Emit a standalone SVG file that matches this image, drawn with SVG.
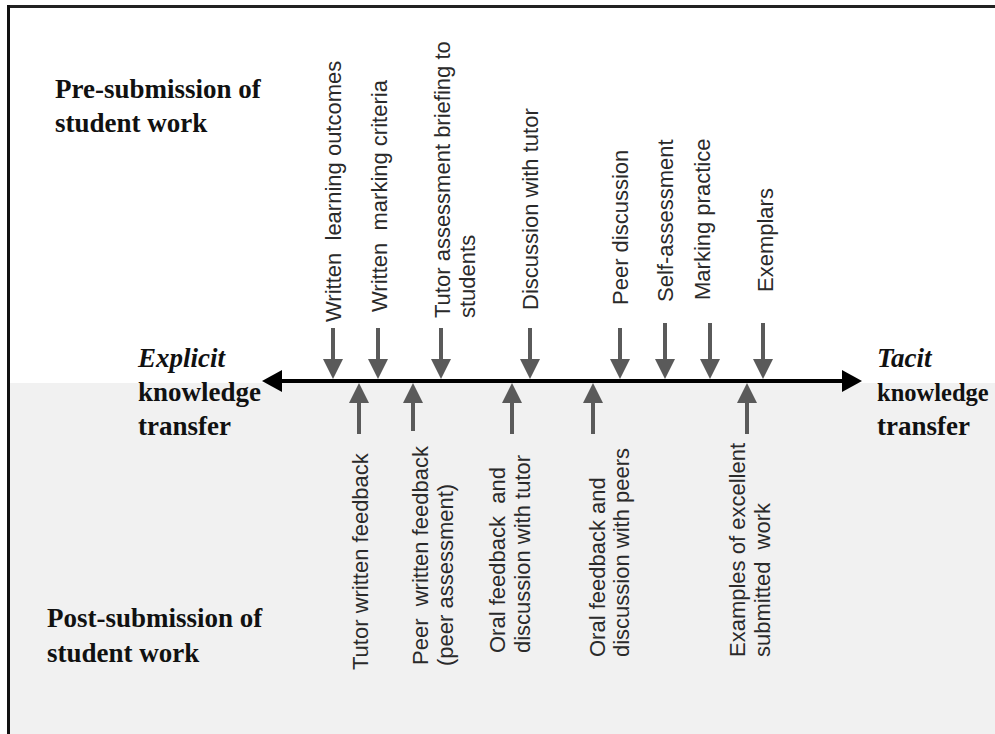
<svg xmlns="http://www.w3.org/2000/svg" width="995" height="734" viewBox="0 0 995 734">
<style>
.hd{font-family:"Liberation Serif","Times New Roman",serif;font-weight:bold;font-size:27px;fill:#111}
.it{font-style:italic}
.lb{font-family:"Liberation Sans",Arial,sans-serif;font-size:22px;fill:#2a2a2a;white-space:pre}
.ar{stroke:#5a5a5a;stroke-width:4;fill:none}
.axis{stroke:#000;stroke-width:4;fill:none}
</style>
<defs>
<marker id="gh" viewBox="0 0 20 20" refX="0" refY="10" markerWidth="20" markerHeight="20" markerUnits="userSpaceOnUse" orient="auto">
<path d="M0,0 L20,10 L0,20 Z" fill="#5a5a5a"/>
</marker>
<marker id="bh" viewBox="0 0 20 22" refX="0" refY="11" markerWidth="20" markerHeight="22" markerUnits="userSpaceOnUse" orient="auto">
<path d="M0,0 L20,11 L0,22 Z" fill="#000"/>
</marker>
</defs>
<rect x="0" y="0" width="995" height="734" fill="#fff"/>
<rect x="9" y="383" width="986" height="351" fill="#f1f1f1"/>
<g id="frame">
<line x1="7" y1="6.5" x2="995" y2="6.5" stroke="#222" stroke-width="3"/>
<line x1="8.5" y1="5" x2="8.5" y2="734" stroke="#111" stroke-width="3"/>
</g>
<g id="connectors">
<line class="axis" x1="282" y1="381" x2="842" y2="381" marker-end="url(#bh)"/>
<line class="axis" x1="842" y1="381" x2="282" y2="381" marker-end="url(#bh)"/>
<line class="ar" x1="333" y1="328" x2="333" y2="359" marker-end="url(#gh)"/>
<line class="ar" x1="378" y1="328" x2="378" y2="359" marker-end="url(#gh)"/>
<line class="ar" x1="441" y1="328" x2="441" y2="359" marker-end="url(#gh)"/>
<line class="ar" x1="530" y1="328" x2="530" y2="359" marker-end="url(#gh)"/>
<line class="ar" x1="620" y1="328" x2="620" y2="359" marker-end="url(#gh)"/>
<line class="ar" x1="665" y1="323" x2="665" y2="359" marker-end="url(#gh)"/>
<line class="ar" x1="710" y1="323" x2="710" y2="359" marker-end="url(#gh)"/>
<line class="ar" x1="763" y1="323" x2="763" y2="359" marker-end="url(#gh)"/>
<line class="ar" x1="359" y1="434" x2="359" y2="403" marker-end="url(#gh)"/>
<line class="ar" x1="413" y1="431" x2="413" y2="403" marker-end="url(#gh)"/>
<line class="ar" x1="512" y1="434" x2="512" y2="403" marker-end="url(#gh)"/>
<line class="ar" x1="593" y1="434" x2="593" y2="403" marker-end="url(#gh)"/>
<line class="ar" x1="747" y1="434" x2="747" y2="403" marker-end="url(#gh)"/>
</g>
<g id="pre-submission">
<text class="hd" x="55" y="98">Pre-submission of</text>
<text class="hd" x="55" y="132">student work</text>
</g>
<g id="post-submission">
<text class="hd" x="47" y="627">Post-submission of</text>
<text class="hd" x="47" y="662">student work</text>
</g>
<g id="explicit">
<text class="hd it" x="138" y="367">Explicit</text>
<text class="hd" x="138" y="401">knowledge</text>
<text class="hd" x="138" y="435">transfer</text>
</g>
<g id="tacit">
<text class="hd it" x="877" y="367">Tacit</text>
<text class="hd" x="877" y="401" style="font-size:24.5px">knowledge</text>
<text class="hd" x="877" y="435">transfer</text>
</g>
<g id="written-learning-outcomes"><text class="lb" xml:space="preserve" transform="translate(341,322) rotate(-90)">Written  learning outcomes</text></g>
<g id="written-marking-criteria"><text class="lb" xml:space="preserve" transform="translate(387,312) rotate(-90)">Written  marking criteria</text></g>
<g id="tutor-assessment-briefing">
<text class="lb" transform="translate(450,318) rotate(-90)">Tutor assessment briefing to</text>
<text class="lb" transform="translate(475,318) rotate(-90)">students</text>
</g>
<g id="discussion-with-tutor"><text class="lb" transform="translate(538,310) rotate(-90)">Discussion with tutor</text></g>
<g id="peer-discussion"><text class="lb" transform="translate(628,305) rotate(-90)">Peer discussion</text></g>
<g id="self-assessment"><text class="lb" transform="translate(673,302) rotate(-90)">Self-assessment</text></g>
<g id="marking-practice"><text class="lb" transform="translate(710,300) rotate(-90)">Marking practice</text></g>
<g id="exemplars"><text class="lb" transform="translate(773,292) rotate(-90)">Exemplars</text></g>
<g id="tutor-written-feedback"><text class="lb" transform="translate(368,670) rotate(-90)">Tutor written feedback</text></g>
<g id="peer-written-feedback">
<text class="lb" xml:space="preserve" transform="translate(428,665) rotate(-90)">Peer  written feedback</text>
<text class="lb" transform="translate(453,666) rotate(-90)">(peer assessment)</text>
</g>
<g id="oral-feedback-tutor">
<text class="lb" xml:space="preserve" transform="translate(505,653) rotate(-90)">Oral feedback  and</text>
<text class="lb" transform="translate(530,653) rotate(-90)">discussion with tutor</text>
</g>
<g id="oral-feedback-peers">
<text class="lb" transform="translate(605,657) rotate(-90)">Oral feedback and</text>
<text class="lb" transform="translate(629,657) rotate(-90)">discussion with peers</text>
</g>
<g id="examples-excellent">
<text class="lb" transform="translate(745,657) rotate(-90)">Examples of excellent</text>
<text class="lb" xml:space="preserve" transform="translate(770,657) rotate(-90)">submitted  work</text>
</g>
</svg>
